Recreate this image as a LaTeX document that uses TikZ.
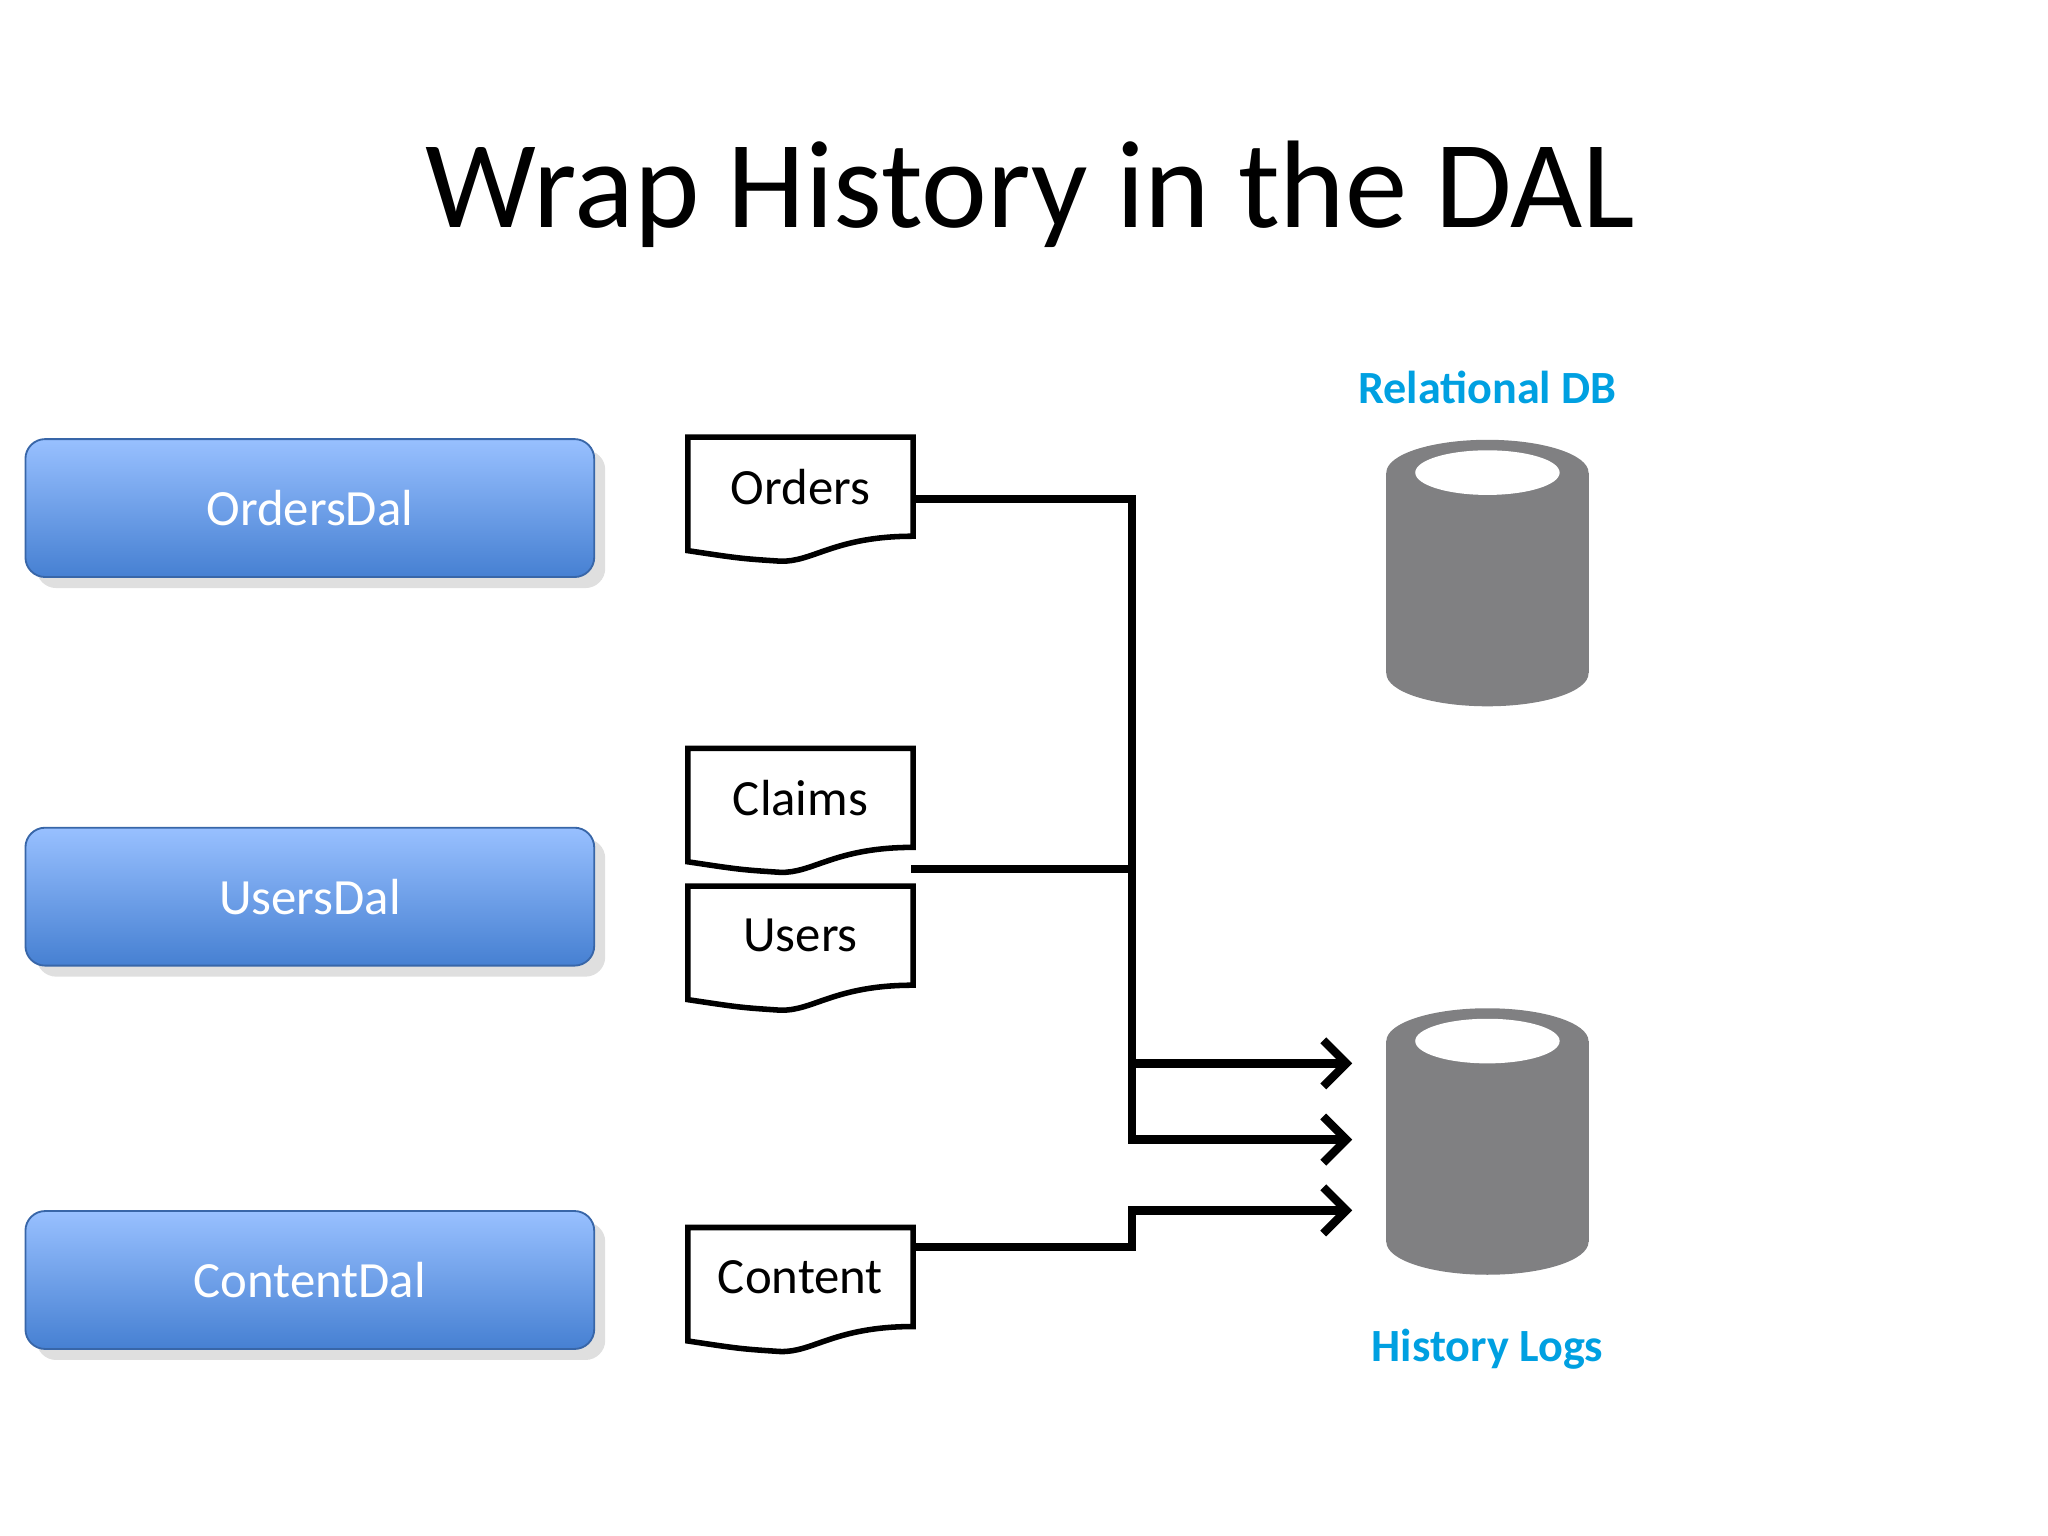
\documentclass[tikz,border=0pt]{standalone}
\usepackage{fontspec}
\setmainfont{Carlito}
\usetikzlibrary{shadows,arrows.meta}
\definecolor{dbgray}{RGB}{128,128,130}
\definecolor{lblblue}{RGB}{0,160,225}
\definecolor{boxtop}{RGB}{152,192,255}
\definecolor{boxbot}{RGB}{70,128,210}
\tikzset{
  dal/.style={rounded corners=0.15cm, draw=boxbot!80!black, thin,
    top color=boxtop, bottom color=boxbot, text=white,
    minimum width=4.33cm, minimum height=1.05cm,
    font=\fontsize{11}{13}\selectfont, drop shadow={opacity=0.25}},
  doc/.style={minimum width=1.7cm, minimum height=0.74cm, anchor=north west,
    font=\fontsize{11}{13}\selectfont, inner sep=0pt},
  docline/.style={line width=1.2pt},
  conn/.style={line width=1.8pt},
  arr/.style={conn, -{Straight Barb[length=5pt,width=10pt]}},
  lbl/.style={text=lblblue, font=\bfseries\fontsize{10}{12}\selectfont}
}
\newcommand\docpath[1]{%
  \draw[docline] (#1.north west) -- (#1.north east) -- (#1.south east)
    .. controls ([xshift=-0.6cm]#1.south east) and ([xshift=0.95cm,yshift=-0.2cm]#1.south west)
    .. ([xshift=0.7cm,yshift=-0.19cm]#1.south west)
    .. controls ([xshift=0.4cm,yshift=-0.17cm]#1.south west) .. ([yshift=-0.11cm]#1.south west) -- cycle;}
\newcommand\dbcyl[1]{%
  \fill[dbgray] (1133,#1) ellipse[x radius=77, y radius=25];
  \fill[dbgray] (1056,#1) rectangle (1210,#1+153);
  \fill[dbgray] (1133,#1+153) ellipse[x radius=77, y radius=25];
  \fill[white] (1133,#1) ellipse[x radius=55, y radius=17];}
\begin{document}
\begin{tikzpicture}[x=0.01cm,y=-0.01cm]
\useasboundingbox (0,0) rectangle (1560,1170);
\node (title) at (785,148) {\fontsize{27}{32}\selectfont Wrap History in the DAL};

\node[dal] (od) at (236,387) {OrdersDal};
\node[dal] (ud) at (236,683) {UsersDal};
\node[dal] (cd) at (236,975) {ContentDal};

\node[doc] (orders) at (524,333) {Orders};
\node[doc] (claims) at (524,570) {Claims};
\node[doc] (users) at (524,675) {Users};
\node[doc] (content) at (524,935) {Content};
\docpath{orders}\docpath{claims}\docpath{users}\docpath{content}

\dbcyl{360}
\dbcyl{793}
\node[lbl] (rdb) at (1133,295) {Relational DB};
\node[lbl] (hl) at (1133,1028) {History Logs};
\coordinate (t1) at (1030,810);
\coordinate (t2) at (1030,868);
\coordinate (t3) at (1030,922);
\coordinate (j1) at (862,810);

\draw[arr] (orders.east |- 0,380) -| (862,868) -- (t2);
\draw[conn] (694,662) -- (862,662);
\draw[arr] (j1) -- (t1);
\draw[arr] (694,950) -| (862,922) -- (t3);
\end{tikzpicture}
\end{document}
